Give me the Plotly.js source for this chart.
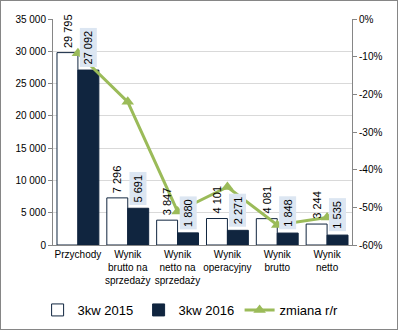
<!DOCTYPE html>
<html><head><meta charset="utf-8">
<script src="https://cdn.plot.ly/plotly-3.0.1.min.js"></script>
<style>
html,body{margin:0;padding:0;background:#fff;}
#wrap{width:398px;height:330px;box-sizing:border-box;border:1px solid #868686;overflow:hidden;}
#chart{width:396px;height:328px;}
</style></head>
<body><div id="wrap"><div id="chart"></div></div>
<script>
const categories = ["Przychody","Wynik<br>brutto na<br>sprzedaży","Wynik<br>netto na<br>sprzedaży","Wynik<br>operacyjny","Wynik<br>brutto","Wynik<br>netto"];
const q3_2015 = [29795, 7296, 3847, 4101, 4081, 3244];
const q3_2016 = [27092, 5691, 1880, 2271, 1848, 1535];
const changeYoY = [-0.091, -0.220, -0.511, -0.446, -0.547, -0.527];
const leftTicks = [0,5000,10000,15000,20000,25000,30000,35000];
const leftTickText = ["0","5 000","10 000","15 000","20 000","25 000","30 000","35 000"];
const rightTicks = [0,-0.1,-0.2,-0.3,-0.4,-0.5,-0.6];
const rightTickText = ["0%","-10%","-20%","-30%","-40%","-50%","-60%"];
const seriesNames = ["3kw 2015","3kw 2016","zmiana r/r"];

const idx = categories.map((c,i)=>i);
const fmt = v => String(v).replace(/\B(?=(\d{3})+(?!\d))/g," ");
const bw = 0.42;
const font = "Liberation Sans, Arial, sans-serif";

const traces = [
 {type:"bar", name:seriesNames[0], x:idx, y:q3_2015, width:bw, offset:-bw,
  marker:{color:"#ffffff", line:{color:"#10253F", width:1}}, hoverinfo:"none"},
 {type:"bar", name:seriesNames[1], x:idx, y:q3_2016, width:bw, offset:0,
  marker:{color:"#10253F", line:{color:"#10253F", width:1}}, hoverinfo:"none"},
 {type:"scatter", mode:"lines+markers", name:seriesNames[2], x:idx, y:changeYoY, yaxis:"y2",
  line:{color:"#9BBB59", width:3}, marker:{symbol:"triangle-up", size:11, color:"#9BBB59"}, hoverinfo:"none"}
];

const annotations = [];
idx.forEach(i=>{
  annotations.push({x:i-bw/2, y:q3_2015[i], xref:"x", yref:"y", text:fmt(q3_2015[i]), textangle:-90,
    showarrow:false, yanchor:"bottom", yshift:3, font:{family:font,size:11,color:"#000"}, borderpad:1});
  annotations.push({x:i+bw/2, y:q3_2016[i], xref:"x", yref:"y", text:fmt(q3_2016[i]), textangle:-90,
    showarrow:false, yanchor:"bottom", yshift:3, bgcolor:"#DCE6F2", font:{family:font,size:11,color:"#000"}, borderpad:2});
});

const layout = {
  width:396, height:328,
  margin:{l:52,r:45,t:18,b:84, autoexpand:false},
  paper_bgcolor:"#fff", plot_bgcolor:"#fff",
  font:{family:font, size:10, color:"#000"},
  showlegend:true,
  legend:{orientation:"h", xref:"container", yref:"container", x:0.475, xanchor:"center", y:0.058, yanchor:"middle",
    font:{family:font,size:13,color:"#000"}, itemwidth:30, entrywidth:56, traceorder:"normal"},
  bargap:0.16,
  xaxis:{range:[-0.5,5.5], tickvals:idx, ticktext:categories, showgrid:false, zeroline:false,
    showline:true, linecolor:"#868686", linewidth:1, ticks:"", tickfont:{family:font,size:10}, fixedrange:true},
  yaxis:{range:[0,35000], tickvals:leftTicks, ticktext:leftTickText, showgrid:true, gridcolor:"#D9D9D9",
    zeroline:false, showline:true, linecolor:"#868686", ticks:"outside", ticklen:4, tickcolor:"#868686",
    tickfont:{family:font,size:10}},
  yaxis2:{overlaying:"y", side:"right", range:[-0.6,0], tickvals:rightTicks, ticktext:rightTickText,
    showgrid:false, zeroline:false, showline:true, linecolor:"#868686", ticks:"outside", ticklen:4,
    tickcolor:"#868686", tickfont:{family:font,size:10}},
  annotations:annotations
};
Plotly.newPlot("chart", traces, layout, {displayModeBar:false, staticPlot:true});
</script></body></html>
